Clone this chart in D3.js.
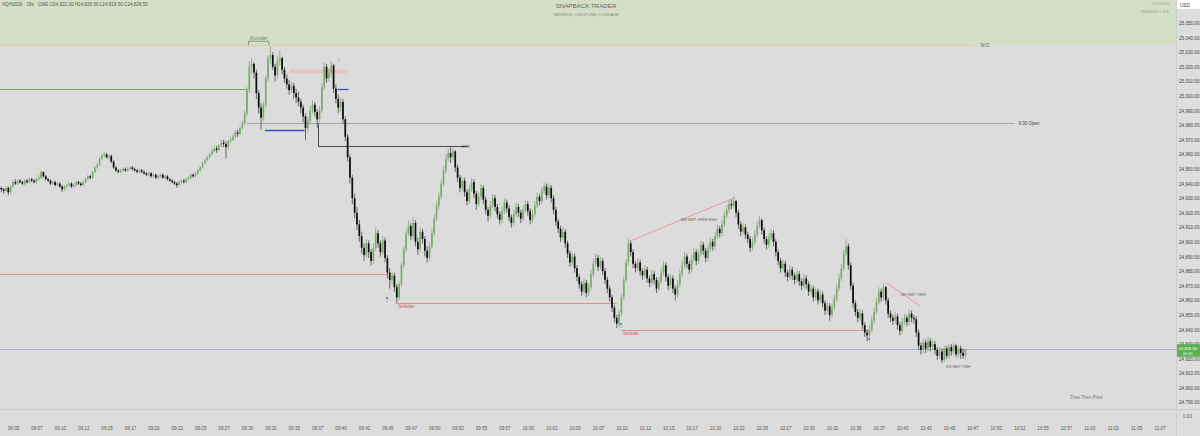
<!DOCTYPE html>
<html><head><meta charset="utf-8">
<script src="https://cdn.jsdelivr.net/npm/d3@7"></script>
<style>body{margin:0;background:#dcdcdc;overflow:hidden}svg{display:block;font-family:"Liberation Sans",Arial,sans-serif}</style>
</head><body><svg id="c" width="1200" height="436"></svg>
<script>
const startTime = "09:03:45";
const firstOpen = 24937;
const closes = [24936,24935,24937,24934,24938,24941,24940,24942,24941,24940,
24942,24941,24943,24942,24941,24943,24944,24948,24945,24943,
24942,24940,24941,24939,24940,24938,24936,24938,24939,24940,
24938,24939,24941,24940,24939,24941,24943,24945,24944,24948,
24951,24953,24957,24959,24960,24958,24959,24955,24951,24949,
24948,24949,24950,24949,24950,24951,24950,24949,24948,24949,
24948,24947,24946,24947,24945,24946,24944,24945,24946,24944,
24945,24943,24942,24941,24940,24939,24941,24942,24941,24943,
24944,24946,24945,24947,24949,24951,24954,24956,24958,24960,
24962,24964,24963,24966,24968,24967,24965,24969,24970,24972,
24975,24974,24978,24981,24988,25004,25020,25022,25016,25002,
24992,24985,24994,25012,25026,25028,25020,25014,25024,25026,
25018,25012,25008,25004,25007,25002,24999,24996,24992,24986,
24978,24983,24990,24994,24989,24984,24990,25006,25020,25012,
25016,25021,25005,24998,24992,24996,24984,24972,24958,24944,
24930,24920,24912,24904,24896,24891,24899,24893,24887,24896,
24906,24899,24893,24901,24889,24879,24874,24877,24869,24862,
24871,24884,24895,24906,24911,24904,24913,24900,24895,24907,
24902,24894,24889,24897,24906,24916,24925,24931,24940,24949,
24957,24961,24958,24962,24951,24944,24937,24942,24934,24928,
24936,24941,24933,24926,24931,24937,24929,24922,24918,24925,
24930,24924,24919,24915,24921,24927,24923,24917,24913,24919,
24924,24920,24916,24922,24926,24921,24915,24919,24925,24931,
24928,24935,24938,24932,24937,24930,24922,24914,24909,24903,
24907,24899,24892,24886,24890,24882,24876,24871,24866,24872,
24865,24869,24878,24885,24889,24883,24887,24880,24874,24868,
24862,24855,24848,24844,24851,24862,24874,24886,24899,24893,
24885,24882,24886,24880,24877,24881,24875,24872,24878,24874,
24868,24873,24879,24884,24876,24870,24875,24868,24864,24871,
24878,24884,24890,24885,24881,24888,24893,24887,24892,24898,
24894,24889,24895,24900,24897,24904,24909,24906,24912,24918,
24922,24926,24925,24928,24920,24912,24907,24910,24905,24902,
24896,24900,24905,24911,24915,24908,24902,24898,24903,24906,
24900,24893,24887,24882,24885,24879,24876,24881,24877,24874,
24878,24873,24870,24875,24871,24866,24868,24862,24866,24860,
24864,24858,24853,24856,24850,24855,24861,24868,24875,24882,
24892,24897,24884,24870,24858,24852,24848,24851,24843,24838,
24836,24840,24846,24852,24859,24866,24862,24869,24860,24851,
24848,24846,24849,24843,24839,24845,24848,24845,24851,24848,
24847,24838,24829,24826,24831,24827,24832,24828,24830,24826,
24822,24825,24819,24827,24822,24828,24825,24829,24823,24827,
24824,24822,24826.5];
const highs = [24938,24937,24938,24938,24939,24942,24943,24943,24943,24942,
24943,24943,24944,24944,24943,24944,24946,24949,24948,24946,
24944,24943,24942,24942,24941,24941,24939,24939,24940,24941,
24941,24940,24942,24942,24941,24942,24944,24946,24946,24949,
24952,24954,24958,24961,24962,24961,24960,24960,24956,24952,
24950,24950,24951,24951,24951,24952,24952,24951,24950,24950,
24950,24949,24948,24948,24948,24947,24947,24946,24947,24947,
24946,24946,24944,24943,24942,24941,24942,24943,24943,24944,
24945,24947,24947,24948,24950,24952,24955,24957,24959,24961,
24964,24966,24966,24967,24970,24970,24969,24970,24972,24974,
24977,24977,24979,24983,24990,25006,25024,25026,25023,25018,
25004,24995,24996,25014,25028,25034,25030,25022,25027,25031,
25027,25020,25015,25011,25010,25009,25005,25003,24998,24994,
24988,24986,24993,24997,24996,24991,24993,25009,25023,25022,
25019,25024,25022,25008,25001,24999,24998,24986,24974,24960,
24946,24933,24924,24915,24907,24899,24902,24901,24895,24899,
24910,24908,24901,24904,24903,24891,24882,24880,24879,24871,
24873,24886,24897,24909,24915,24913,24917,24915,24903,24910,
24909,24904,24897,24900,24909,24919,24928,24934,24943,24952,
24960,24964,24965,24964,24963,24953,24946,24945,24944,24936,
24939,24944,24943,24935,24934,24940,24939,24931,24924,24928,
24933,24932,24926,24921,24924,24930,24929,24925,24919,24922,
24927,24926,24922,24925,24929,24928,24923,24922,24928,24934,
24933,24938,24941,24940,24940,24939,24932,24924,24916,24911,
24910,24909,24901,24894,24893,24892,24884,24878,24873,24875,
24874,24872,24881,24888,24892,24891,24890,24889,24882,24876,
24870,24864,24857,24850,24853,24864,24876,24888,24902,24901,
24895,24887,24889,24888,24882,24884,24883,24877,24881,24880,
24876,24876,24882,24887,24886,24878,24878,24877,24870,24874,
24881,24887,24893,24892,24887,24891,24896,24895,24895,24901,
24900,24896,24898,24903,24902,24907,24912,24911,24915,24921,
24925,24929,24929,24931,24929,24922,24914,24913,24912,24907,
24904,24903,24908,24914,24918,24916,24910,24904,24906,24909,
24908,24902,24895,24889,24888,24887,24881,24884,24883,24879,
24881,24880,24875,24878,24877,24873,24871,24870,24869,24868,
24867,24866,24860,24859,24858,24858,24864,24871,24878,24885,
24895,24902,24899,24886,24872,24860,24854,24854,24853,24845,
24840,24843,24849,24855,24862,24869,24868,24872,24870,24862,
24853,24850,24852,24851,24845,24848,24851,24850,24854,24853,
24850,24849,24840,24831,24834,24833,24835,24834,24833,24832,
24828,24828,24827,24829,24829,24830,24830,24831,24830,24829,
24829,24827,24826.5];
const lows = [24934,24933,24934,24932,24933,24937,24939,24939,24940,24939,
24939,24940,24940,24941,24940,24940,24942,24943,24944,24942,
24941,24939,24939,24938,24938,24937,24934,24935,24937,24938,
24937,24937,24938,24939,24938,24938,24940,24942,24943,24943,
24947,24950,24952,24956,24958,24957,24956,24954,24950,24948,
24947,24947,24948,24948,24948,24949,24949,24948,24947,24947,
24947,24946,24945,24945,24944,24944,24943,24943,24944,24943,
24943,24942,24941,24940,24939,24937,24938,24940,24940,24940,
24942,24943,24944,24944,24946,24948,24950,24953,24955,24957,
24959,24961,24961,24962,24965,24965,24957,24963,24968,24969,
24971,24972,24973,24977,24980,24986,25002,25015,25012,24998,
24988,24977,24983,24992,25010,25022,25018,25010,25012,25021,
25015,25009,25005,25001,25002,24998,24995,24993,24988,24982,
24970,24975,24981,24988,24986,24978,24982,24988,25004,25009,
25010,25013,25002,24995,24988,24989,24981,24969,24955,24940,
24926,24916,24908,24900,24892,24887,24889,24889,24884,24885,
24894,24896,24890,24891,24886,24875,24868,24871,24866,24858,
24860,24869,24882,24893,24904,24901,24902,24897,24891,24893,
24899,24890,24886,24887,24895,24904,24914,24922,24929,24938,
24947,24955,24954,24956,24948,24941,24934,24935,24931,24925,
24926,24934,24930,24922,24924,24929,24926,24919,24914,24916,
24923,24921,24916,24912,24913,24919,24920,24914,24910,24911,
24917,24917,24913,24914,24920,24918,24912,24913,24917,24923,
24925,24926,24933,24929,24930,24927,24919,24911,24906,24900,
24901,24896,24889,24883,24884,24879,24873,24868,24863,24864,
24862,24863,24867,24876,24883,24880,24881,24877,24871,24865,
24859,24852,24845,24841,24842,24849,24860,24872,24884,24890,
24882,24879,24880,24877,24874,24875,24872,24869,24870,24871,
24865,24866,24871,24877,24873,24867,24868,24865,24860,24862,
24869,24876,24882,24882,24878,24879,24886,24884,24885,24890,
24891,24886,24887,24893,24894,24895,24902,24903,24904,24910,
24916,24920,24922,24923,24917,24909,24904,24905,24902,24899,
24893,24894,24898,24903,24909,24905,24899,24895,24896,24901,
24897,24890,24884,24879,24880,24876,24873,24874,24874,24871,
24872,24870,24867,24868,24868,24863,24864,24859,24860,24857,
24858,24855,24850,24851,24846,24848,24853,24859,24866,24873,
24880,24890,24881,24867,24855,24849,24845,24846,24840,24835,
24832,24834,24838,24844,24850,24857,24859,24860,24857,24848,
24845,24843,24844,24840,24836,24837,24843,24842,24843,24845,
24844,24835,24826,24823,24824,24824,24825,24825,24826,24823,
24819,24820,24817,24818,24820,24820,24822,24823,24821,24821,
24820,24820,24819.5];

const priceTicks = [24790,24800,24810,24820,24830,24840,24850,24860,24870,24880,24890,24900,24910,24920,24930,24940,24950,24960,24970,24980,24990,25000,25010,25020,25030,25040,25050];
const timeTicks = ["09:05:00","09:07:30","09:10:00","09:12:30","09:15:00","09:17:30","09:20:00","09:22:30","09:25:00","09:27:30","09:30:00","09:32:30","09:35:00","09:37:30","09:40:00","09:42:30","09:45:00","09:47:30","09:50:00","09:52:30","09:55:00","09:57:30","10:00:00","10:02:30","10:05:00","10:07:30","10:10:00","10:12:30","10:15:00","10:17:30","10:20:00","10:22:30","10:25:00","10:27:30","10:30:00","10:32:30","10:35:00","10:37:30","10:40:00","10:42:30","10:45:00","10:47:30","10:50:00","10:52:30","10:55:00","10:57:30","11:00:00","11:02:30","11:05:00","11:07:30"];

// horizontal levels: [price, from, to]
const levelWO = [25034.75, "09:03:30", "10:47:30"];
const level930 = [24981.25, "09:30:00", "10:52:00"];
const levelGreen = [25004.5, "09:03:30", "09:30:00"];
const levelRed1 = [24878, "09:03:30", "09:45:00"];
const levelSell1 = [24858, "09:46:00", "10:09:30"];
const levelSell2 = [24840, "10:10:00", "10:36:30"];
const levelBlue = [24977, "09:31:55", "09:36:10"];
const smt1 = [["10:11:05", 24901], ["10:22:00", 24930]];
const smt2 = [["10:38:20", 24872], ["10:41:55", 24856]];
const bprBox = [24981.25, 24965.5, "09:37:35", "09:53:35"];
const pinkZone = [25018, 25015.5, "09:34:35", "09:40:40"];
const arrowsUp = [["09:45:00", 24863], ["10:10:00", 24845], ["10:36:30", 24835]];

const parse = d3.timeParse("%Y-%m-%d %H:%M:%S");
const T = s => parse("2026-01-21 " + s);
const start = T(startTime);
const data = closes.map((c, i) => ({
  t: d3.timeSecond.offset(start, i * 15),
  o: i === 0 ? firstOpen : closes[i - 1],
  h: highs[i], l: lows[i], c
}));

const W = 1200, H = 436, axisX = 1176, paneB = 409;
const x = d3.scaleTime().domain([T("09:05:00"), T("10:45:00")]).range([13, 949]);
const y = d3.scaleLinear().domain([24790, 25050]).range([402.5, 23]);
const sy = v => Math.round(y(v)) + 0.5;

const svg = d3.select("#c");
svg.append("rect").attr("width", W).attr("height", H).attr("fill", "#dcdcdc");
svg.append("rect").attr("x", axisX).attr("width", W - axisX).attr("height", H).attr("fill", "#dedede");
// top zone
svg.append("rect").attr("x", 0).attr("y", 0).attr("width", axisX).attr("height", y(levelWO[0])).attr("fill", "#d5dfc6");

const g = svg.append("g");
function hline(lv, color, w) {
  g.append("line").attr("x1", Math.max(0, x(T(lv[1])))).attr("x2", x(T(lv[2])))
    .attr("y1", sy(lv[0])).attr("y2", sy(lv[0])).attr("stroke", color).attr("stroke-width", w || 1);
}
hline(levelWO, "#e3cf96", 1);
hline(level930, "#a4a4a4", 1);
hline(levelGreen, "#6fae5c", 1);
hline(levelRed1, "#e88a8a", 1);
hline(levelSell1, "#e88a8a", 1);
hline(levelSell2, "#e88a8a", 1);
// BPR box
g.append("path").attr("d", `M${Math.round(x(T(bprBox[2]))) + 0.5},${sy(bprBox[0])}V${sy(bprBox[1])}H${x(T(bprBox[3]))}`)
  .attr("fill", "none").attr("stroke", "#4a4a4a").attr("stroke-width", 1);
// pink zone
g.append("rect").attr("x", x(T(pinkZone[2]))).attr("y", y(pinkZone[0]))
  .attr("width", x(T(pinkZone[3])) - x(T(pinkZone[2]))).attr("height", y(pinkZone[1]) - y(pinkZone[0]))
  .attr("fill", "#f0b9b9").attr("opacity", 0.8);
hline(levelBlue, "#2c4fc8", 1.4);
// SMT lines
[smt1, smt2].forEach(s => g.append("line").attr("x1", x(T(s[0][0]))).attr("y1", y(s[0][1]))
  .attr("x2", x(T(s[1][0]))).attr("y2", y(s[1][1])).attr("stroke", "#e58a8a").attr("stroke-width", 0.8));

// current price line
const last = data[data.length - 1];
g.append("line").attr("x1", 0).attr("x2", axisX).attr("y1", sy(last.c)).attr("y2", sy(last.c))
  .attr("stroke", "#b7aed2").attr("stroke-width", 1);

// candles
const cg = svg.append("g");
cg.selectAll("line.w").data(data).join("line")
  .attr("x1", d => x(d.t)).attr("x2", d => x(d.t))
  .attr("y1", d => y(d.h)).attr("y2", d => y(d.l))
  .attr("stroke", d => d.c >= d.o ? "#7f9a78" : "#333").attr("stroke-width", 0.7);
cg.selectAll("rect.b").data(data).join("rect")
  .attr("x", d => x(d.t) - 0.85).attr("width", 1.7)
  .attr("y", d => y(Math.max(d.o, d.c)))
  .attr("height", d => Math.max(0.7, Math.abs(y(d.o) - y(d.c))))
  .attr("fill", d => d.c >= d.o ? "#79ad68" : "#0d0d0d");

// labels/annotations
const txt = (xx, yy, s, fs, col, anchor) => svg.append("text").attr("x", xx).attr("y", yy)
  .attr("font-size", fs).attr("fill", col).attr("text-anchor", anchor || "start").text(s);
// Rounder bracket
const rx1 = x(T("09:30:10")), rx2 = x(T("09:32:20")), ry = y(25037.5);
g.append("path").attr("d", `M${rx1},${ry + 4}V${ry}H${rx2}V${ry + 4}`).attr("fill", "none").attr("stroke", "#6d8f62").attr("stroke-width", 0.8);
txt((rx1 + rx2) / 2, ry - 1.5, "Rounder", 4.5, "#5f8a55", "middle");
txt(x(T("09:39:50")), y(25023) - 1, "↓", 6, "#d9534f", "middle");
g.append("line").attr("x1", x(T("09:39:40"))).attr("x2", x(T("09:40:50"))).attr("y1", sy(25004.5)).attr("y2", sy(25004.5)).attr("stroke", "#2c4fc8").attr("stroke-width", 1.2);
arrowsUp.forEach(a => txt(x(T(a[0])), y(a[1]) + 6, "⇡", 6.5, "#2c5fc8", "middle"));
txt(x(T("09:46:10")), y(levelSell1[0]) + 5, "Sellside", 4.5, "#d9534f");
txt(x(T("10:10:10")), y(levelSell2[0]) + 5, "Sellside", 4.5, "#d9534f");
txt(x(T(bprBox[3])) - 6, y(bprBox[1]) + 1.5, "BPR", 4, "#444");
txt(x(T("10:16:20")), y(24915.5) + 1.5, "KM SMT: HWH ESH", 4, "#666");
txt(x(T("10:39:50")), y(24864) + 1.5, "SH SMT YMH", 4, "#666");
txt(x(T("10:46:00")), y(24817) + 5, "SS SMT YMH", 4, "#666", "middle");
txt(x(T(levelWO[2])) + 8, y(levelWO[0]) + 1.5, "W.O", 4.5, "#555");
txt(x(T(level930[2])) + 4, y(level930[0]) + 1.5, "9:30 Open", 4.5, "#444");
txt(1070, 398.5, "Time Then Price", 4.5, "#777");

// header
txt(2, 6, "NQH2026 · 15s · CME   O24,822.00   H24,826.50   L24,819.50   C24,826.50", 4.6, "#555");
txt(586, 8, "SNAPBACK TRADER", 6.2, "#666", "middle");
txt(586, 15.5, "PATIENCE  |  DISCIPLINE  |  COURAGE", 3.8, "#888", "middle");
txt(1169, 5, "21/1/2026", 4, "#999", "end");
txt(1169, 12.5, "NQH2026 | 15S", 4, "#999", "end");
svg.append("rect").attr("x", axisX + 1).attr("y", 0).attr("width", W - axisX - 1).attr("height", 9).attr("fill", "#fff");
txt(axisX + 4, 6.5, "USD", 4.6, "#333");

// axes
const ya = svg.append("g").attr("transform", `translate(${axisX + 3},0)`)
  .call(d3.axisRight(y).tickValues(priceTicks).tickFormat(d3.format(",.2f")).tickSize(0).tickPadding(0));
ya.select(".domain").remove();
ya.selectAll("text").attr("font-size", 4.6).attr("fill", "#444").attr("font-family", "Liberation Sans, Arial");

const xa = svg.append("g").attr("transform", `translate(0,${427})`)
  .call(d3.axisBottom(x).tickValues(timeTicks.map(T)).tickFormat(d3.timeFormat("%H:%M")).tickSize(0).tickPadding(0));
xa.select(".domain").remove();
xa.selectAll("text").attr("font-size", 4.6).attr("fill", "#555").attr("font-family", "Liberation Sans, Arial");

// separators
svg.append("line").attr("x1", 0).attr("x2", W).attr("y1", paneB + 0.5).attr("y2", paneB + 0.5).attr("stroke", "#c9c9c9").attr("stroke-width", 1);
svg.append("line").attr("x1", axisX + 0.5).attr("x2", axisX + 0.5).attr("y1", 0).attr("y2", H).attr("stroke", "#cfcfcf").attr("stroke-width", 1);
txt(axisX + 7, 418, "0.00", 4.6, "#555");

// price tag
const py = y(last.c);
svg.append("rect").attr("x", axisX + 1).attr("y", py - 5).attr("width", W - axisX - 1).attr("height", 12.5).attr("fill", "#58b24f");
txt(axisX + 2.5, py + 1.2, d3.format(",.2f")(last.c), 4.2, "#fff");
txt(axisX + 7, py + 6, "00:09", 3.8, "#eaffea");
</script></body></html>
